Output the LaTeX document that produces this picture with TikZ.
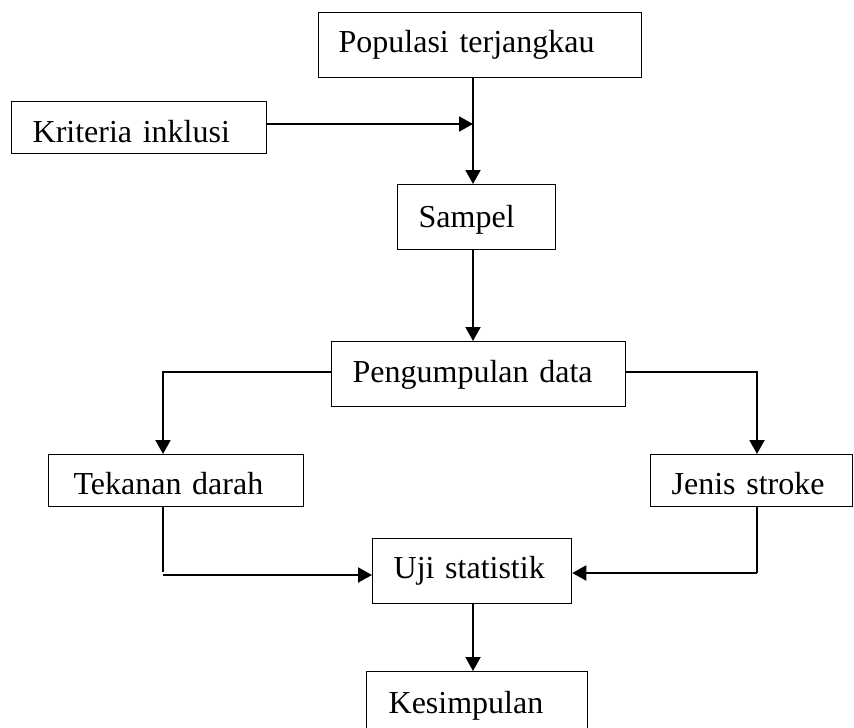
\documentclass[tikz,border=0pt]{standalone}
\usepackage{fontspec}
\setmainfont{Liberation Serif}
\usetikzlibrary{arrows.meta}
\tikzset{
  box/.style={draw=black, line width=1.3pt, anchor=north west, inner ysep=0pt,
    align=left, font=\fontsize{32}{38}\selectfont, text depth=7pt},
  conn/.style={line width=2pt},
  arr/.style={conn, -{Triangle[length=14pt,width=15pt]}},
  thinln/.style={line width=1.2pt}
}
\begin{document}
\begin{tikzpicture}[x=1pt,y=-1pt]
\useasboundingbox (0,0) rectangle (854,728);
\clip (0,0) rectangle (854,728);
\fill[white] (0,0) rectangle (854,728);
% boxes
\node[box, inner xsep=20pt, text width=283pt, minimum height=65pt, text height=22pt] (pop) at (318,12) {Populasi terjangkau};
\node[box, inner xsep=21pt, text width=213pt, minimum height=52pt, text height=36.4pt] (kri) at (11,101) {Kriteria inklusi};
\node[box, inner xsep=21pt, text width=116pt, minimum height=65pt, text height=27pt] (sam) at (397,184) {Sampel};
\node[box, inner xsep=21pt, text width=252pt, minimum height=65pt, text height=23pt] (pen) at (331,341) {Pengumpulan data};
\node[box, inner xsep=25pt, text width=205pt, minimum height=52pt, text height=35pt] (tek) at (48,454) {Tekanan darah};
\node[box, inner xsep=21pt, text width=160pt, minimum height=52pt, text height=35pt] (jen) at (650,454) {Jenis stroke};
\node[box, inner xsep=21pt, text width=157pt, minimum height=65pt, text height=21pt] (uji) at (372,538) {Uji statistik};
\node[box, inner xsep=22pt, text width=177pt, minimum height=65pt, text height=25.4pt] (kes) at (366,671) {Kesimpulan};
% helper coordinates
\coordinate (kx) at (473,124);
\coordinate (tl) at (163,372);
\coordinate (tr) at (757,372);
\coordinate (bl) at (163,575);
\coordinate (blend) at (163,572);
\coordinate (br) at (757,573);
% connectors
\draw[arr] (kx |- pop.south) -- (kx |- sam.north);
\draw[arr] (kri.east |- kx) -- (kx);
\draw[arr] (kx |- sam.south) -- (kx |- pen.north);
\draw[arr] (pen.west |- tl) -- (tl) -- (tl |- tek.north);
\draw[arr] (pen.east |- tr) -- (tr) -- (tr |- jen.north);
\draw[thinln] (tl |- tek.south) -- (blend);
\draw[arr] (bl) -- (uji.west |- bl);
\draw[thinln] (tr |- jen.south) -- (br);
\draw[arr] (br) -- (uji.east |- br);
\draw[arr] (kx |- uji.south) -- (kx |- kes.north);
\end{tikzpicture}
\end{document}
